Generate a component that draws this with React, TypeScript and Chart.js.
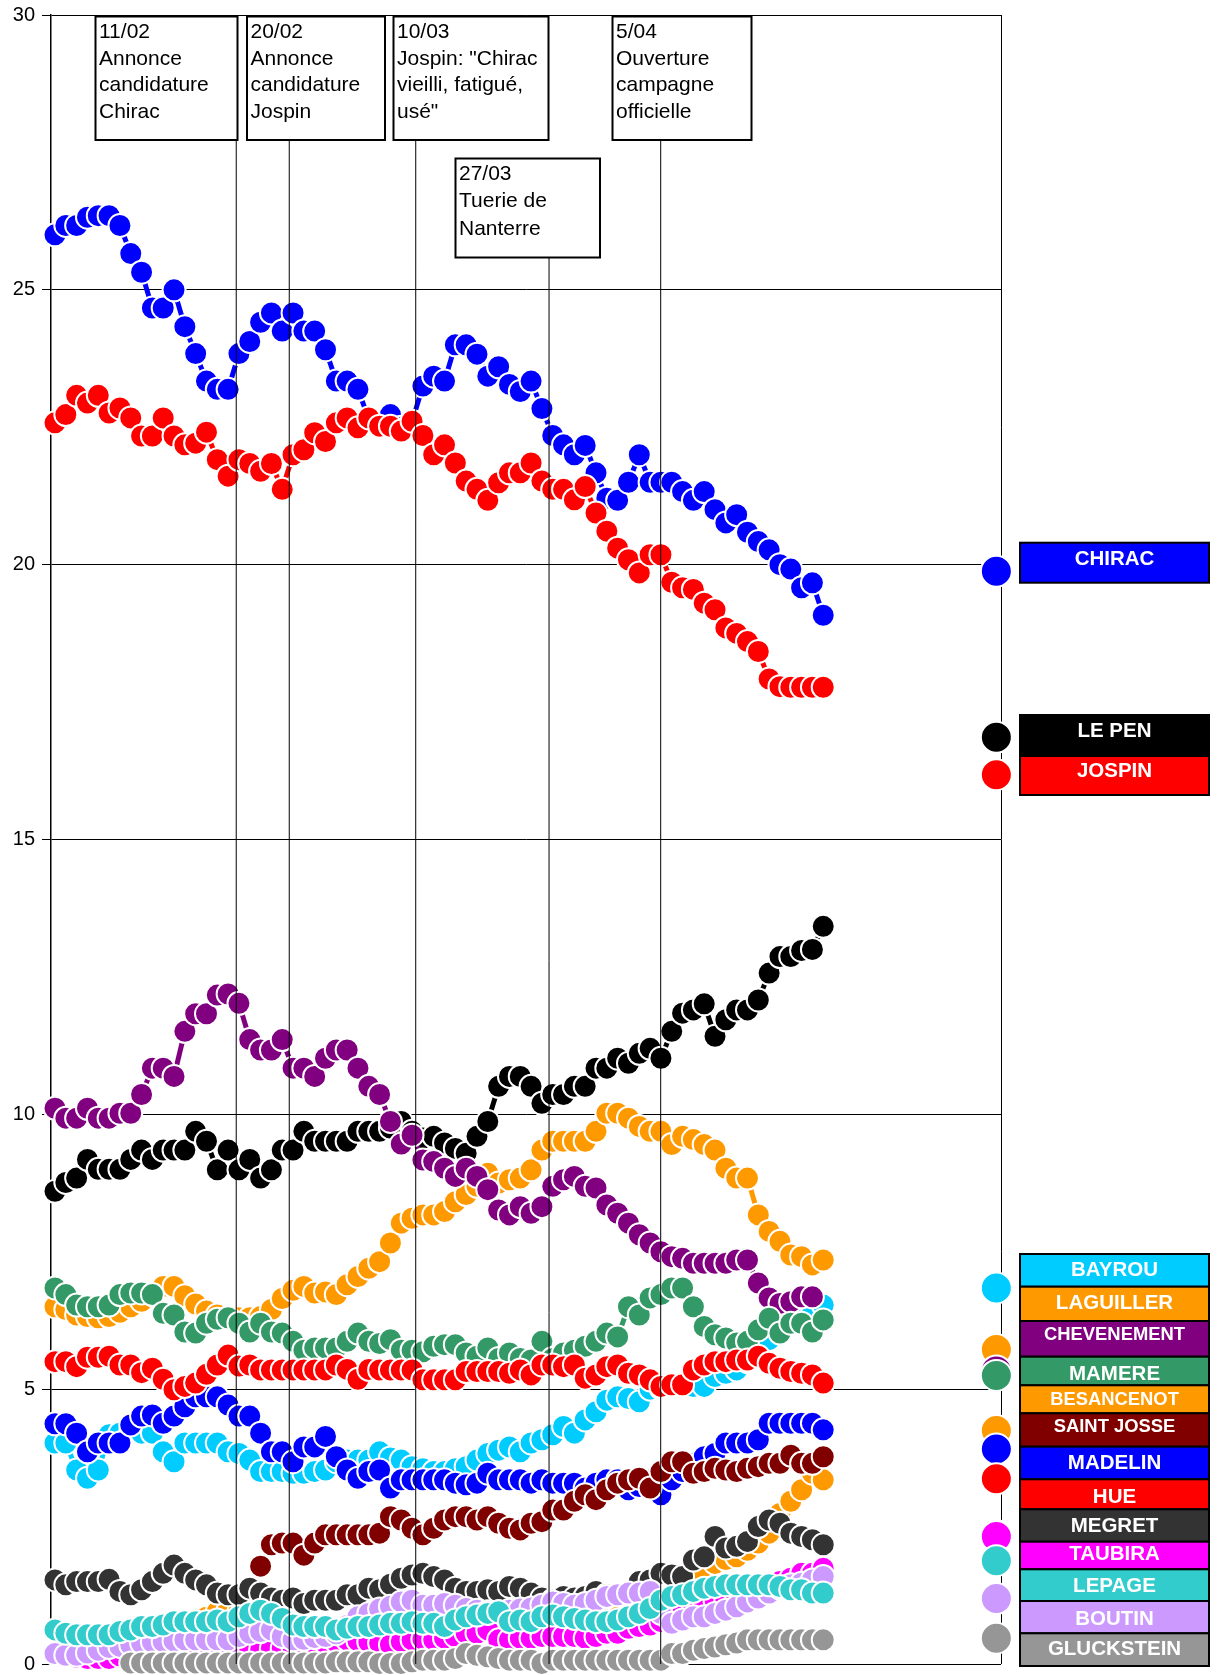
import React, { useEffect, useRef } from "react";
import { Chart, registerables } from "chart.js";

Chart.register(...registerables);

// ---------- DATA ----------
const CANDIDATES = ["CHIRAC", "LE PEN", "JOSPIN", "BAYROU", "LAGUILLER", "CHEVENEMENT", "MAMERE", "BESANCENOT", "SAINT JOSSE", "MADELIN", "HUE", "MEGRET", "TAUBIRA", "LEPAGE", "BOUTIN", "GLUCKSTEIN"];
const COLORS = ["#0000FF", "#000000", "#FF0000", "#00CCFF", "#FF9900", "#800080", "#339966", "#FF9900", "#800000", "#0000FF", "#FF0000", "#333333", "#FF00FF", "#33CCCC", "#CC99FF", "#969696"];
// first-round results (21 April)
const RESULTS = [19.88, 16.86, 16.18, 6.84, 5.72, 5.33, 5.25, 4.25, 4.23, 3.91, 3.37, 2.34, 2.32, 1.88, 1.19, 0.47];

const CHIRAC = [26.0, 26.17, 26.17, 26.32, 26.35, 26.35, 26.17, 25.66, 25.32, 24.67, 24.67, 25.0, 24.33, 23.84, 23.34, 23.19, 23.19, 23.84, 24.06, 24.41, 24.58, 24.25, 24.58, 24.25, 24.25, 23.91, 23.34, 23.34, 23.19, 22.65, 22.6, 22.73, 22.5, 22.6, 23.25, 23.43, 23.34, 24.0, 24.0, 23.83, 23.43, 23.6, 23.28, 23.15, 23.34, 22.84, 22.35, 22.18, 22.0, 22.17, 21.67, 21.21, 21.17, 21.5, 22.0, 21.5, 21.5, 21.5, 21.33, 21.17, 21.33, 21.0, 20.76, 20.91, 20.59, 20.42, 20.27, 20.0, 19.92, 19.58, 19.67, 19.08];
const LEPEN = [8.6, 8.76, 8.84, 9.18, 9.0, 9.0, 9.0, 9.18, 9.35, 9.18, 9.35, 9.35, 9.35, 9.69, 9.51, 8.99, 9.35, 8.99, 9.18, 8.84, 8.99, 9.35, 9.35, 9.69, 9.51, 9.51, 9.51, 9.51, 9.69, 9.69, 9.69, 9.75, 9.87, 9.69, 9.57, 9.6, 9.48, 9.38, 9.29, 9.6, 9.87, 10.51, 10.69, 10.69, 10.51, 10.2, 10.36, 10.36, 10.51, 10.51, 10.84, 10.84, 11.02, 10.93, 11.11, 11.2, 11.02, 11.51, 11.84, 11.9, 12.01, 11.42, 11.72, 11.9, 11.9, 12.08, 12.57, 12.87, 12.87, 12.98, 13.0, 13.42];
const JOSPIN = [22.58, 22.73, 23.08, 22.94, 23.08, 22.76, 22.85, 22.67, 22.34, 22.34, 22.67, 22.34, 22.18, 22.21, 22.41, 21.91, 21.61, 21.91, 21.84, 21.7, 21.84, 21.37, 22.0, 22.09, 22.4, 22.24, 22.58, 22.67, 22.49, 22.67, 22.52, 22.52, 22.43, 22.61, 22.35, 22.0, 22.18, 21.85, 21.52, 21.37, 21.17, 21.49, 21.67, 21.67, 21.85, 21.52, 21.37, 21.37, 21.18, 21.42, 20.94, 20.61, 20.3, 20.09, 19.85, 20.18, 20.18, 19.68, 19.58, 19.55, 19.3, 19.18, 18.85, 18.75, 18.6, 18.42, 17.92, 17.78, 17.77, 17.77, 17.77, 17.77];
const BAYROU = [4.02, 4.02, 3.53, 3.38, 3.53, 4.17, 4.2, 4.23, 4.2, 4.2, 3.86, 3.68, 4.02, 4.02, 4.02, 4.02, 3.86, 3.83, 3.71, 3.5, 3.5, 3.5, 3.47, 3.47, 3.5, 3.53, 3.68, 3.71, 3.71, 3.71, 3.86, 3.75, 3.71, 3.59, 3.55, 3.5, 3.5, 3.55, 3.59, 3.71, 3.83, 3.89, 3.95, 3.86, 4.02, 4.08, 4.17, 4.32, 4.2, 4.44, 4.59, 4.8, 4.86, 4.83, 4.77, 5.0, 5.02, 5.05, 5.05, 5.05, 5.05, 5.23, 5.29, 5.35, 5.5, 5.7, 5.9, 6.05, 6.2, 6.3, 6.38, 6.53];
const LAGUILLER = [6.5, 6.45, 6.35, 6.32, 6.3, 6.32, 6.4, 6.5, 6.6, 6.75, 6.87, 6.87, 6.7, 6.55, 6.42, 6.35, 6.3, 6.3, 6.3, 6.32, 6.45, 6.65, 6.8, 6.87, 6.75, 6.77, 6.72, 6.9, 7.05, 7.2, 7.32, 7.66, 8.02, 8.11, 8.17, 8.17, 8.23, 8.41, 8.54, 8.69, 8.93, 8.75, 8.81, 8.84, 8.99, 9.35, 9.51, 9.51, 9.51, 9.51, 9.69, 10.02, 10.02, 9.93, 9.78, 9.69, 9.69, 9.45, 9.6, 9.54, 9.45, 9.35, 9.02, 8.84, 8.84, 8.17, 7.87, 7.69, 7.44, 7.41, 7.26, 7.35];
const CHEVENEMENT = [10.11, 9.93, 9.93, 10.11, 9.93, 9.93, 10.02, 10.02, 10.36, 10.84, 10.84, 10.69, 11.51, 11.83, 11.83, 12.17, 12.19, 12.02, 11.36, 11.17, 11.17, 11.36, 10.84, 10.84, 10.69, 11.02, 11.17, 11.17, 10.84, 10.51, 10.36, 9.87, 9.46, 9.62, 9.17, 9.14, 9.02, 8.87, 9.02, 8.87, 8.63, 8.26, 8.17, 8.32, 8.2, 8.32, 8.69, 8.81, 8.87, 8.69, 8.66, 8.35, 8.2, 8.02, 7.81, 7.66, 7.5, 7.41, 7.38, 7.29, 7.29, 7.29, 7.29, 7.35, 7.35, 6.93, 6.66, 6.56, 6.59, 6.68, 6.68, null];
const MAMERE = [6.84, 6.72, 6.53, 6.5, 6.5, 6.53, 6.72, 6.75, 6.75, 6.72, 6.38, 6.35, 6.04, 6.02, 6.2, 6.27, 6.3, 6.2, 6.04, 6.2, 6.04, 6.02, 5.87, 5.71, 5.75, 5.75, 5.75, 5.87, 6.02, 5.87, 5.83, 5.9, 5.71, 5.71, 5.68, 5.78, 5.81, 5.81, 5.66, 5.6, 5.75, 5.56, 5.66, 5.56, 5.53, 5.87, 5.56, 5.66, 5.71, 5.78, 5.87, 6.02, 5.95, 6.5, 6.35, 6.66, 6.72, 6.84, 6.84, 6.5, 6.14, 5.99, 5.93, 5.84, 5.87, 6.08, 6.29, 6.02, 6.2, 6.2, 6.04, 6.26];
const BESANCENOT = [0.6, 0.56, 0.54, 0.54, 0.54, 0.55, 0.6, 0.63, 0.68, 0.7, 0.72, 0.77, 0.78, 0.8, 0.85, 0.95, 0.98, 0.95, 0.92, 0.96, 0.9, 0.82, 0.72, 0.69, 0.69, 0.69, 0.64, 0.66, 0.69, 0.7, 0.72, 0.75, 0.75, 0.78, 0.75, 0.75, 0.7, 0.8, 0.86, 0.89, 0.92, 0.95, 0.8, 0.82, 0.8, 0.86, 0.89, 0.87, 0.84, 0.82, 0.8, 0.8, 0.85, 0.9, 0.95, 1.05, 1.2, 1.25, 1.3, 1.45, 1.65, 1.83, 1.9, 1.95, 2.07, 2.2, 2.38, 2.74, 2.96, 3.17, 3.47, 3.35];
const SAINTJOSSE = [null, null, null, null, null, null, null, null, null, null, null, null, null, null, null, null, null, null, null, 1.78, 2.17, 2.2, 2.2, 1.98, 2.2, 2.35, 2.35, 2.35, 2.35, 2.35, 2.38, 2.68, 2.62, 2.47, 2.35, 2.47, 2.62, 2.68, 2.68, 2.62, 2.68, 2.56, 2.47, 2.44, 2.56, 2.59, 2.8, 2.8, 2.96, 3.08, 2.99, 3.17, 3.29, 3.35, 3.38, 3.2, 3.5, 3.68, 3.68, 3.47, 3.5, 3.56, 3.53, 3.5, 3.56, 3.59, 3.65, 3.65, 3.8, 3.65, 3.65, 3.77];
const MADELIN = [4.37, 4.37, 4.2, 3.86, 4.02, 4.02, 4.02, 4.35, 4.51, 4.53, 4.38, 4.51, 4.68, 4.86, 4.86, 4.86, 4.71, 4.51, 4.51, 4.2, 3.86, 3.86, 3.68, 3.95, 3.95, 4.14, 3.77, 3.53, 3.38, 3.5, 3.53, 3.2, 3.35, 3.35, 3.35, 3.35, 3.35, 3.29, 3.26, 3.29, 3.47, 3.35, 3.35, 3.35, 3.29, 3.35, 3.29, 3.29, 3.29, 3.2, 3.29, 3.35, 3.35, 3.17, 3.23, 3.35, 3.08, 3.35, 3.5, 3.65, 3.77, 3.83, 4.02, 4.02, 4.02, 4.08, 4.38, 4.38, 4.38, 4.38, 4.38, 4.26];
const HUE = [5.5, 5.5, 5.41, 5.58, 5.58, 5.6, 5.44, 5.44, 5.3, 5.38, 5.18, 4.99, 5.05, 5.11, 5.27, 5.44, 5.62, 5.42, 5.44, 5.35, 5.35, 5.35, 5.35, 5.35, 5.35, 5.35, 5.44, 5.36, 5.18, 5.36, 5.35, 5.35, 5.35, 5.35, 5.17, 5.17, 5.17, 5.17, 5.32, 5.32, 5.32, 5.32, 5.29, 5.35, 5.26, 5.44, 5.44, 5.41, 5.44, 5.2, 5.26, 5.41, 5.44, 5.29, 5.26, 5.17, 5.05, 5.08, 5.08, 5.35, 5.44, 5.5, 5.5, 5.53, 5.53, 5.6, 5.47, 5.38, 5.32, 5.29, 5.26, 5.11];
const MEGRET = [1.53, 1.44, 1.5, 1.5, 1.5, 1.54, 1.32, 1.26, 1.35, 1.5, 1.65, 1.8, 1.65, 1.53, 1.44, 1.29, 1.26, 1.26, 1.38, 1.29, 1.2, 1.16, 1.2, 1.1, 1.16, 1.16, 1.16, 1.26, 1.26, 1.38, 1.35, 1.45, 1.56, 1.62, 1.65, 1.59, 1.53, 1.38, 1.32, 1.32, 1.35, 1.32, 1.41, 1.38, 1.29, 1.2, 1.16, 1.23, 1.2, 1.23, 1.32, 1.26, 1.26, 1.23, 1.5, 1.53, 1.65, 1.62, 1.59, 1.89, 1.95, 2.32, 2.11, 2.14, 2.23, 2.5, 2.62, 2.56, 2.38, 2.32, 2.26, 2.17];
const TAUBIRA = [0.2, 0.15, 0.12, 0.1, 0.1, 0.1, 0.15, 0.2, 0.2, 0.22, 0.25, 0.25, 0.25, 0.28, 0.3, 0.3, 0.3, 0.28, 0.25, 0.25, 0.28, 0.28, 0.3, 0.3, 0.35, 0.38, 0.4, 0.44, 0.42, 0.4, 0.38, 0.35, 0.41, 0.44, 0.45, 0.44, 0.47, 0.5, 0.56, 0.56, 0.62, 0.44, 0.44, 0.47, 0.47, 0.5, 0.5, 0.5, 0.5, 0.47, 0.5, 0.56, 0.56, 0.65, 0.68, 0.71, 0.77, 0.74, 0.92, 0.98, 1.13, 1.16, 1.16, 1.23, 1.29, 1.35, 1.41, 1.5, 1.56, 1.65, 1.65, 1.74];
const LEPAGE = [0.62, 0.56, 0.53, 0.53, 0.53, 0.53, 0.59, 0.62, 0.68, 0.68, 0.71, 0.77, 0.77, 0.77, 0.77, 0.8, 0.77, 0.86, 0.92, 0.98, 0.92, 0.83, 0.71, 0.68, 0.68, 0.68, 0.62, 0.65, 0.68, 0.68, 0.71, 0.74, 0.74, 0.77, 0.74, 0.74, 0.68, 0.8, 0.86, 0.89, 0.92, 0.95, 0.77, 0.8, 0.77, 0.86, 0.89, 0.86, 0.83, 0.8, 0.77, 0.77, 0.8, 0.86, 0.92, 1.01, 1.16, 1.23, 1.26, 1.32, 1.38, 1.41, 1.44, 1.44, 1.44, 1.44, 1.44, 1.41, 1.35, 1.35, 1.29, 1.29];
const BOUTIN = [0.19, 0.16, 0.16, 0.2, 0.25, 0.3, 0.32, 0.35, 0.38, 0.4, 0.41, 0.42, 0.44, 0.44, 0.44, 0.44, 0.44, 0.5, 0.56, 0.59, 0.62, 0.5, 0.44, 0.45, 0.48, 0.5, 0.55, 0.7, 0.86, 0.92, 1.0, 1.05, 1.13, 1.16, 1.07, 1.07, 1.1, 1.07, 1.01, 0.98, 0.95, 0.95, 0.98, 1.0, 1.02, 1.07, 1.13, 1.1, 1.07, 1.1, 1.16, 1.23, 1.26, 1.29, 1.29, 1.32, 0.92, 0.74, 0.8, 0.86, 0.86, 0.92, 0.98, 1.04, 1.13, 1.2, 1.29, 1.38, 1.44, 1.47, 1.53, 1.59];
const GLUCKSTEIN = [null, null, null, null, null, null, null, 0.02, 0.02, 0.02, 0.02, 0.02, 0.02, 0.02, 0.02, 0.02, 0.02, 0.02, 0.02, 0.02, 0.02, 0.02, 0.02, 0.02, 0.02, 0.02, 0.04, 0.04, 0.04, 0.04, 0.01, 0.01, 0.01, 0.04, 0.07, 0.07, 0.07, 0.1, 0.19, 0.16, 0.13, 0.1, 0.07, 0.07, 0.07, 0.01, 0.07, 0.07, 0.07, 0.07, 0.07, 0.07, 0.07, 0.07, 0.07, 0.07, 0.07, 0.19, 0.19, 0.25, 0.28, 0.31, 0.35, 0.38, 0.44, 0.44, 0.44, 0.44, 0.44, 0.44, 0.44, 0.44];

const SERIES_VALUES = [CHIRAC, LEPEN, JOSPIN, BAYROU, LAGUILLER, CHEVENEMENT, MAMERE, BESANCENOT, SAINTJOSSE, MADELIN, HUE, MEGRET, TAUBIRA, LEPAGE, BOUTIN, GLUCKSTEIN];
// stacking of series, bottom first
const DRAW_ORDER = ["CHIRAC", "LE PEN", "JOSPIN", "BAYROU", "LAGUILLER", "CHEVENEMENT", "MAMERE", "BESANCENOT", "MADELIN", "SAINT JOSSE", "HUE", "MEGRET", "TAUBIRA", "BOUTIN", "LEPAGE", "GLUCKSTEIN"];
const RESULT_ORDER = ["CHIRAC", "LE PEN", "JOSPIN", "BAYROU", "LAGUILLER", "CHEVENEMENT", "MAMERE", "SAINT JOSSE", "BESANCENOT", "MADELIN", "HUE", "MEGRET", "TAUBIRA", "LEPAGE", "BOUTIN", "GLUCKSTEIN"];

const Y_TICKS = [0, 5, 10, 15, 20, 25, 30];
const RESULT_X = 87;

const EVENT_X = [16.75, 21.65, 33.34, 45.66, 55.98];
const EVENT_TEXT = [
  ["11/02", "Annonce", "candidature", "Chirac"],
  ["20/02", "Annonce", "candidature", "Jospin"],
  ["10/03", "Jospin: \"Chirac", "vieilli, fatigué,", "usé\""],
  ["27/03", "Tuerie de", "Nanterre"],
  ["5/04", "Ouverture", "campagne", "officielle"],
];

// ---------- LAYOUT (pixels) ----------
const W = 1219;
const H = 1675;
const FONT = "'Liberation Sans', Arial, Helvetica, sans-serif";
const EVENT_BOXES = [
  { l: 95.5, t: 16.5, r: 237.5, b: 140 },
  { l: 247, t: 16.5, r: 385, b: 140 },
  { l: 393.5, t: 16.5, r: 548.5, b: 140 },
  { l: 455.5, t: 158.5, r: 600, b: 257.5 },
  { l: 612.5, t: 16.5, r: 751.5, b: 140 },
];
const LEG_X0 = 1020;
const LEG_X1 = 1209;
const LEGEND_BOXES = [
  { t: 542.7, b: 582.7, ty: 557.7, fs: 20.5 },
  { t: 715, b: 756, ty: 730, fs: 20.5 },
  { t: 756, b: 795, ty: 769.3, fs: 20.5 },
  { t: 1254, b: 1286.7, ty: 1268.3, fs: 20.5 },
  { t: 1286.7, b: 1321, ty: 1301.7, fs: 20.5 },
  { t: 1321, b: 1356.7, ty: 1333.3, fs: 18.4 },
  { t: 1356.7, b: 1385.3, ty: 1372.7, fs: 20.5 },
  { t: 1385.3, b: 1413.3, ty: 1398.3, fs: 18.4 },
  { t: 1413.3, b: 1446.7, ty: 1425, fs: 18.4 },
  { t: 1446.7, b: 1479.3, ty: 1461.7, fs: 20.5 },
  { t: 1479.3, b: 1509.3, ty: 1495.7, fs: 20.5 },
  { t: 1509.3, b: 1541.7, ty: 1524.3, fs: 20.5 },
  { t: 1541.7, b: 1569.3, ty: 1552.7, fs: 20.5 },
  { t: 1569.3, b: 1601, ty: 1584.3, fs: 20.5 },
  { t: 1601, b: 1633.3, ty: 1617.3, fs: 20.5 },
  { t: 1633.3, b: 1666, ty: 1647.3, fs: 20.5 },
];

const overlayPlugin = {
  id: "overlay",
  beforeDatasetsDraw(chart: any) {
    const { ctx, chartArea } = chart;
    ctx.save();
    ctx.strokeStyle = "#000";
    ctx.lineWidth = 1;
    ctx.beginPath();
    ctx.moveTo(chartArea.right + 0.5, chartArea.top);
    ctx.lineTo(chartArea.right + 0.5, chartArea.bottom);
    ctx.stroke();
    ctx.restore();
  },
  afterDatasetsDraw(chart: any) {
    const { ctx, chartArea } = chart;
    const xs = chart.scales.x;
    ctx.save();
    // event lines
    EVENT_X.forEach((xv, k) => {
      const px = xs.getPixelForValue(xv);
      ctx.strokeStyle = "#000";
      ctx.lineWidth = 1;
      ctx.beginPath();
      ctx.moveTo(px, EVENT_BOXES[k].b);
      ctx.lineTo(px, chartArea.bottom);
      ctx.stroke();
    });
    // event boxes
    EVENT_TEXT.forEach((lines, k) => {
      const bx = EVENT_BOXES[k];
      ctx.fillStyle = "#fff";
      ctx.fillRect(bx.l, bx.t, bx.r - bx.l, bx.b - bx.t);
      ctx.strokeStyle = "#000";
      ctx.lineWidth = 2;
      ctx.strokeRect(bx.l, bx.t, bx.r - bx.l, bx.b - bx.t);
      ctx.fillStyle = "#000";
      ctx.font = `21px ${FONT}`;
      ctx.textAlign = "left";
      ctx.textBaseline = "alphabetic";
      const step = k === 3 ? 27.3 : 26.7;
      lines.forEach((s, j) => {
        ctx.fillText(s, bx.l + 3.5, bx.t + 21.5 + j * step);
      });
    });
    // legend boxes
    CANDIDATES.forEach((name, k) => {
      const lb = LEGEND_BOXES[k];
      ctx.fillStyle = COLORS[k];
      ctx.fillRect(LEG_X0, lb.t, LEG_X1 - LEG_X0, lb.b - lb.t);
      ctx.strokeStyle = "#000";
      ctx.lineWidth = 2;
      ctx.strokeRect(LEG_X0, lb.t, LEG_X1 - LEG_X0, lb.b - lb.t);
      ctx.fillStyle = "#fff";
      ctx.font = `bold ${lb.fs}px ${FONT}`;
      ctx.textAlign = "center";
      ctx.textBaseline = "alphabetic";
      ctx.fillText(name, (LEG_X0 + LEG_X1) / 2, lb.ty + lb.fs * 0.358);
    });
    ctx.restore();
  },
};

export default function App() {
  const ref = useRef<HTMLCanvasElement | null>(null);
  useEffect(() => {
    const canvas = ref.current;
    if (!canvas) return;
    const datasets: any[] = CANDIDATES.map((name, k) => ({
      label: name,
      data: SERIES_VALUES[k].map((v, i) => ({ x: i, y: v })),
      borderColor: COLORS[k],
      backgroundColor: COLORS[k],
      borderWidth: 5,
      pointRadius: 11.5,
      pointBorderWidth: 2,
      pointBorderColor: "#fff",
      pointBackgroundColor: COLORS[k],
      pointHoverRadius: 11.5,
      tension: 0,
      spanGaps: false,
      clip: false,
      order: 100 - DRAW_ORDER.indexOf(name),
    }));
    const resIdx = RESULT_ORDER.map((n) => CANDIDATES.indexOf(n));
    datasets.push({
      label: "résultats",
      data: resIdx.map((k) => ({ x: RESULT_X, y: RESULTS[k] })),
      showLine: false,
      pointRadius: 15.5,
      pointHoverRadius: 15.5,
      pointBorderWidth: 2,
      pointBorderColor: "#fff",
      pointBackgroundColor: resIdx.map((k) => COLORS[k]),
      borderColor: "#fff",
      clip: false,
      order: 0,
    });
    const chart = new Chart(canvas, {
      type: "line",
      data: { datasets },
      options: {
        animation: false,
        responsive: false,
        devicePixelRatio: 1,
        events: [],
        layout: { autoPadding: false, padding: { left: 0, top: 15, right: W - 1001, bottom: 11 } },
        plugins: { legend: { display: false }, tooltip: { enabled: false }, title: { display: false } },
        scales: {
          x: { type: "linear", min: -0.37, max: 87.43, display: false },
          y: {
            type: "linear",
            min: 0,
            max: 30,
            afterFit: (s: any) => {
              s.width = 51;
            },
            afterBuildTicks: (s: any) => {
              s.ticks = Y_TICKS.map((v) => ({ value: v }));
            },
            grid: { color: "#000", lineWidth: 1, tickLength: 9, drawTicks: true },
            border: { display: true, color: "#000", width: 1.5 },
            ticks: {
              padding: 7,
              color: "#000",
              font: { family: FONT, size: 20, lineHeight: 0.4 },
            },
          },
        },
      },
      plugins: [overlayPlugin],
    });
    return () => chart.destroy();
  }, []);
  return (
    <div style={{ position: "absolute", left: 0, top: 0, width: W, height: H, background: "#fff" }}>
      <canvas ref={ref} width={W} height={H} style={{ display: "block", width: W, height: H }} />
    </div>
  );
}
